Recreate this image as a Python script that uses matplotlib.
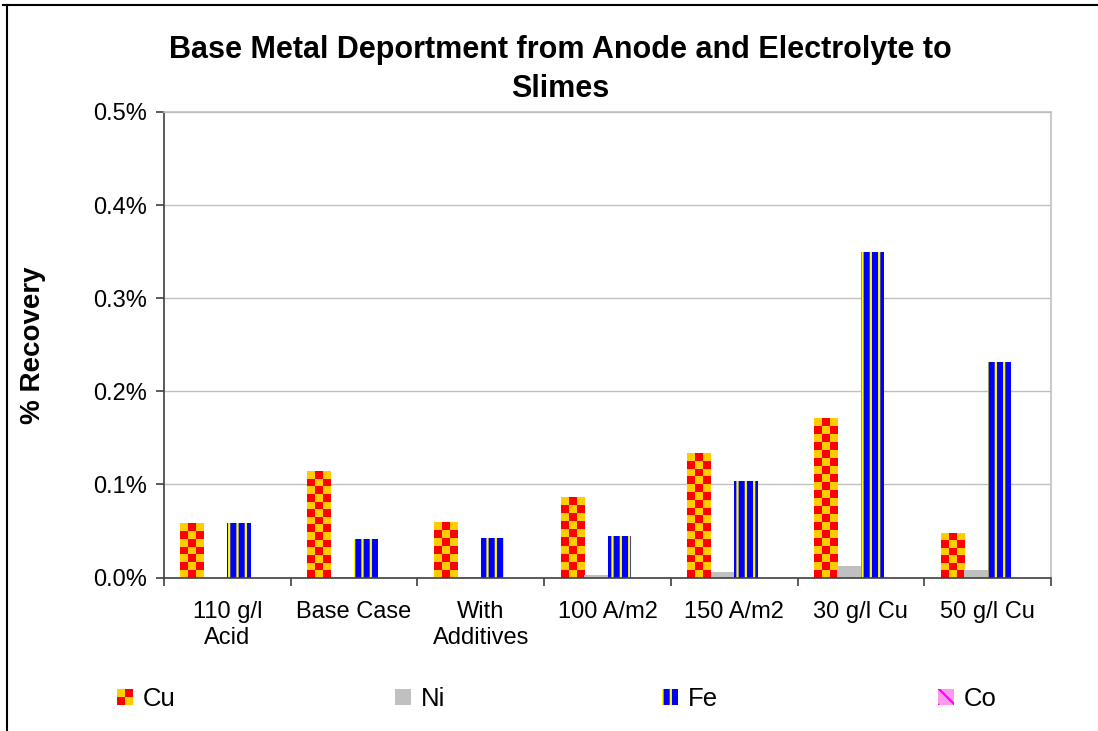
import numpy as np
import matplotlib
matplotlib.use('Agg')
import matplotlib.pyplot as plt
from matplotlib.patches import Patch, Rectangle
from matplotlib.legend_handler import HandlerBase
from matplotlib.lines import Line2D

plt.rcParams['font.family'] = ['Liberation Sans', 'DejaVu Sans']
plt.rcParams['hatch.linewidth'] = 1.6

categories = ['110 g/l\nAcid', 'Base Case', 'With\nAdditives', '100 A/m2',
              '150 A/m2', '30 g/l Cu', '50 g/l Cu']
cu = [0.059, 0.114, 0.060, 0.086, 0.134, 0.171, 0.048]
ni = [0.000, 0.0003, 0.0003, 0.003, 0.006, 0.012, 0.008]
fe = [0.059, 0.041, 0.042, 0.045, 0.104, 0.350, 0.231]
co = [0.0, 0.0, 0.0, 0.0, 0.0, 0.0, 0.0]
series_names = ['Cu', 'Ni', 'Fe', 'Co']

CU_RED = '#FF0000'
CU_YEL = '#FFCC00'
NI_GRAY = '#C0C0C0'
FE_BLUE = '#0000FF'
FE_STRIPE = '#FFFF00'
CO_PINK = '#FF99EE'
CO_MAG = '#FF00FF'


class CheckerHandler(HandlerBase):
    # small red/yellow checkerboard for the legend key
    def create_artists(self, legend, orig_handle, xdescent, ydescent,
                       width, height, fontsize, trans):
        arts = []
        n = 2
        cw, ch = width / n, height / n
        for i in range(n):
            for j in range(n):
                c = CU_RED if (i + j) % 2 == 0 else CU_YEL
                arts.append(Rectangle((-xdescent + i * cw, -ydescent + j * ch), cw, ch,
                                      facecolor=c, edgecolor='none', transform=trans))
        return arts


fig = plt.figure(figsize=(10.98, 7.31), dpi=100)
ax = fig.add_axes([164 / 1098, 1 - 577.5 / 731, (1051 - 164) / 1098, (577.5 - 112) / 731])

x = np.arange(len(categories))
w = 0.185
offsets = np.array([-1.5, -0.5, 0.5, 1.5]) * w

ymax = 0.5
ax.set_xlim(-0.5, len(categories) - 0.5)
ax.set_ylim(0, ymax)

# Cu bars: checkerboard images sized to each bar
px_per_y = ax.bbox.height / ymax
bar_px = w * ax.bbox.width / len(categories)
cell_px = bar_px / 3
for xi, v in zip(x, cu):
    rows = max(1, int(round(v * px_per_y / cell_px)))
    board = (np.add.outer(np.arange(rows), np.arange(3)) % 2).astype(float)
    rgb = np.where(board[..., None] == 1,
                   np.array(matplotlib.colors.to_rgb(CU_RED)),
                   np.array(matplotlib.colors.to_rgb(CU_YEL)))
    x0 = xi + offsets[0] - w / 2
    ax.imshow(rgb, extent=(x0, x0 + w, 0, v), aspect='auto',
              interpolation='nearest', zorder=2)

ax.bar(x + offsets[1], ni, w, color=NI_GRAY, linewidth=0, zorder=2)
ax.bar(x + offsets[2], fe, w, color=FE_BLUE, edgecolor=FE_STRIPE, hatch='||',
       linewidth=0, zorder=2)
ax.bar(x + offsets[3], co, w, color=CO_PINK, edgecolor=CO_MAG, hatch='\\\\',
       linewidth=0, zorder=2)

ax.set_xlim(-0.5, len(categories) - 0.5)
ax.set_ylim(0, ymax)

ax.set_yticks(np.arange(0, 0.51, 0.1))
ax.set_yticklabels(['%.1f%%' % t for t in np.arange(0, 0.51, 0.1)])
ax.yaxis.grid(True, color='#C0C0C0', linewidth=1.0)
ax.set_axisbelow(True)

ax.set_xticks(x)
ax.set_xticklabels(categories, linespacing=1.2)
ax.set_xticks(np.arange(-0.5, len(categories)), minor=True)
ax.tick_params(axis='x', which='major', length=0, pad=17, labelsize=17)
ax.tick_params(axis='x', which='minor', length=6, width=1.2, color='#404040', direction='out')
ax.tick_params(axis='y', length=6, width=1.2, color='#404040', direction='out',
               labelsize=17, pad=6)

for s in ['left', 'bottom']:
    ax.spines[s].set_color('#404040')
    ax.spines[s].set_linewidth(1.2)
for s in ['top', 'right']:
    ax.spines[s].set_color('#C0C0C0')
    ax.spines[s].set_linewidth(1.2)

fig.text(33 / 1098, 1 - 345 / 731, '% Recovery', rotation=90, fontsize=20,
         fontweight='bold', ha='center', va='center')

fig.text(560 / 1098, 1 - 58 / 731, 'Base Metal Deportment from Anode and Electrolyte to',
         fontsize=22, fontweight='bold', ha='center', va='baseline')
fig.text(560 / 1098, 1 - 97 / 731, 'Slimes',
         fontsize=22, fontweight='bold', ha='center', va='baseline')

cu_handle = Patch(facecolor=CU_YEL)
handles = [cu_handle,
           Patch(facecolor=NI_GRAY, linewidth=0),
           Patch(facecolor=FE_BLUE, edgecolor=FE_STRIPE, hatch='||', linewidth=0),
           Patch(facecolor=CO_PINK, edgecolor=CO_MAG, hatch='\\\\', linewidth=0)]
legend_x = [117, 395, 662, 938]
for h, name, lx in zip(handles, series_names, legend_x):
    fig.legend([h], [name], loc='center left',
               bbox_to_anchor=(lx / 1098, 1 - 699 / 731), frameon=False,
               fontsize=18.5, handlelength=0.62, handleheight=0.62, handletextpad=0.4,
               borderpad=0, borderaxespad=0,
               handler_map={cu_handle: CheckerHandler()})

# chart frame lines
fig.add_artist(Line2D([3 / 1098, 1], [1 - 5 / 731, 1 - 5 / 731], color='black',
                      linewidth=1.5, transform=fig.transFigure))
fig.add_artist(Line2D([7 / 1098, 7 / 1098], [0, 1 - 5 / 731], color='black',
                      linewidth=1.5, transform=fig.transFigure))

fig.savefig('out.png', dpi=100)
